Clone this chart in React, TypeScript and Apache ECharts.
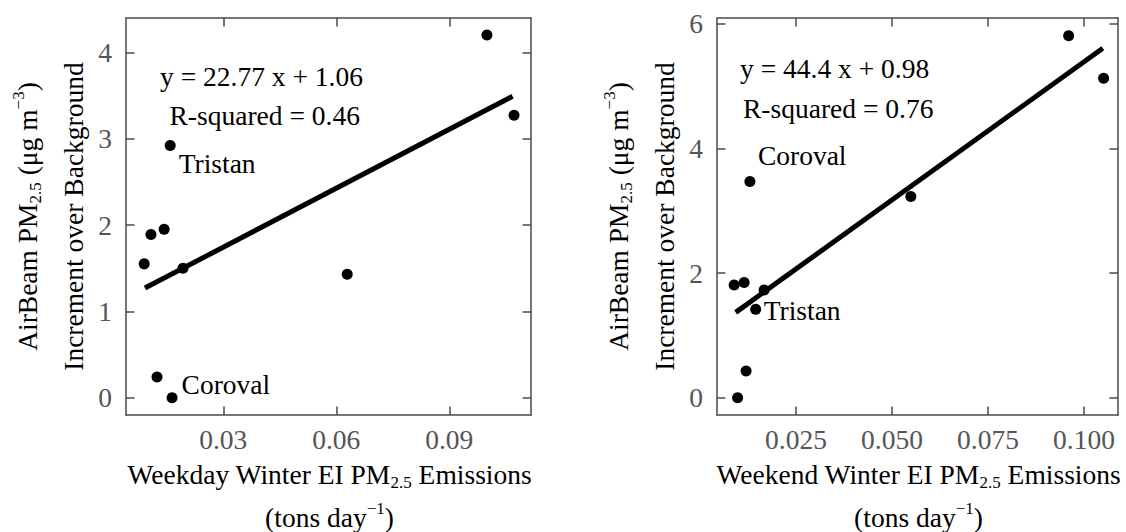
import React, { useEffect, useRef } from 'react';
import * as echarts from 'echarts';

const FONT = '"Liberation Serif", "Times New Roman", serif';

// ---- Data ----
const weekdayEmissions = [0.0090, 0.0108, 0.0143, 0.0193, 0.0159, 0.0124, 0.0164, 0.0629, 0.1000, 0.1072];
const weekdayIncrement = [1.55, 1.89, 1.95, 1.50, 2.92, 0.24, 0.00, 1.43, 4.20, 3.27];
const weekdayNames = ['', '', '', '', 'Tristan', '', 'Coroval', '', '', ''];
const weekdayFitX = [0.0092, 0.1068];
const weekdayFitY = [1.27, 3.49];

const weekendEmissions = [0.0089, 0.0115, 0.0098, 0.0120, 0.0145, 0.0167, 0.0130, 0.0549, 0.0960, 0.1051];
const weekendIncrement = [1.81, 1.85, 0.00, 0.43, 1.42, 1.73, 3.47, 3.23, 5.81, 5.13];
const weekendNames = ['', '', '', '', 'Tristan', '', 'Coroval', '', '', ''];
const weekendFitX = [0.0093, 0.1049];
const weekendFitY = [1.37, 5.61];

const weekdayXTicks = [0.03, 0.06, 0.09];
const weekdayYTicks = [0, 1, 2, 3, 4];
const weekendXTicks = [0.025, 0.05, 0.075, 0.1];
const weekendYTicks = [0, 2, 4, 6];

const weekdayEquation = 'y = 22.77 x + 1.06';
const weekdayR2 = 'R-squared = 0.46';
const weekendEquation = 'y = 44.4 x + 0.98';
const weekendR2 = 'R-squared = 0.76';

// ---- Styling / layout ----
const FS = 27.5;
const FRAME = '#4a4a4a';
const TICKCOLOR = '#555';
const grids = [
  { left: 126, top: 18, width: 405, height: 397 },
  { left: 717, top: 18, width: 401, height: 397 },
];
const ranges = [
  { xmin: 0.00417, xmax: 0.1117, ymin: -0.2, ymax: 4.397, xt: weekdayXTicks, yt: weekdayYTicks, dec: 2 },
  { xmin: 0.00443, xmax: 0.10885, ymin: -0.278, ymax: 6.096, xt: weekendXTicks, yt: weekendYTicks, dec: 3 },
];
const labelPlacement: Record<string, { distance: number; offset: number[] }>[] = [
  { Tristan: { distance: 3, offset: [0, 18] }, Coroval: { distance: 4, offset: [0, -13] } },
  { Tristan: { distance: 2.5, offset: [0, 1] }, Coroval: { distance: 2.5, offset: [0, -26] } },
];

const rich = {
  n: { fontFamily: FONT, fontSize: FS, color: '#000', lineHeight: 34 },
  sub: { fontFamily: FONT, fontSize: 17, color: '#000', verticalAlign: 'bottom', lineHeight: 17 },
  sup: { fontFamily: FONT, fontSize: 17, color: '#000', verticalAlign: 'top', lineHeight: 17 },
};

function makeAxes(i: number) {
  const r = ranges[i];
  const common = {
    gridIndex: i,
    type: 'value',
    splitLine: { show: false },
    axisLine: { show: true, onZero: false, lineStyle: { color: FRAME, width: 1.5 } },
  };
  const tick = (vals: number[]) => ({
    show: true,
    inside: true,
    length: 8.5,
    customValues: vals,
    lineStyle: { color: FRAME, width: 1.5 },
  });
  const xb = {
    ...common,
    position: 'bottom',
    min: r.xmin,
    max: r.xmax,
    axisTick: tick(r.xt),
    axisLabel: {
      show: true,
      customValues: r.xt,
      margin: 10,
      color: TICKCOLOR,
      fontFamily: FONT,
      fontSize: FS,
      formatter: (v: number) => v.toFixed(r.dec),
    },
  };
  const xt = { ...common, position: 'top', min: r.xmin, max: r.xmax, axisTick: tick(r.xt), axisLabel: { show: false } };
  const yl = {
    ...common,
    position: 'left',
    min: r.ymin,
    max: r.ymax,
    axisTick: tick(r.yt),
    axisLabel: {
      show: true,
      customValues: r.yt,
      margin: 14,
      color: TICKCOLOR,
      fontFamily: FONT,
      fontSize: FS,
      formatter: (v: number) => String(Math.round(v)),
    },
  };
  const yr = { ...common, position: 'right', min: r.ymin, max: r.ymax, axisTick: tick(r.yt), axisLabel: { show: false } };
  return { x: [xb, xt], y: [yl, yr] };
}

function makeSeries(i: number, xs: number[], ys: number[], names: string[], fx: number[], fy: number[]) {
  const place = labelPlacement[i];
  const pts = xs.map((x, k) => {
    const nm = names[k];
    if (!nm) return { value: [x, ys[k]] };
    const p = place[nm];
    return {
      value: [x, ys[k]],
      label: {
        show: true,
        formatter: nm,
        position: 'right',
        distance: p.distance,
        offset: p.offset,
        color: '#000',
        fontFamily: FONT,
        fontSize: FS,
      },
    };
  });
  return [
    {
      type: 'line',
      xAxisIndex: i * 2,
      yAxisIndex: i * 2,
      data: fx.map((x, k) => [x, fy[k]]),
      symbol: 'none',
      lineStyle: { color: '#000', width: 5, cap: 'butt', opacity: 1 },
      z: 2,
      silent: true,
    },
    {
      type: 'scatter',
      xAxisIndex: i * 2,
      yAxisIndex: i * 2,
      data: pts,
      symbol: 'circle',
      symbolSize: 11,
      itemStyle: { color: '#000', opacity: 1 },
      z: 3,
    },
  ];
}

function textEl(text: string, x: number, y: number, align = 'left') {
  return {
    type: 'text',
    x,
    y,
    silent: true,
    style: { text, font: `${FS}px ${FONT}`, fill: '#000', align, verticalAlign: 'middle' },
  };
}

function richEl(text: string, x: number, y: number, rotation = 0) {
  return {
    type: 'text',
    x,
    y,
    rotation,
    silent: true,
    style: { text, rich, align: 'center', verticalAlign: 'middle' },
  };
}

export default function App() {
  const ref = useRef<HTMLDivElement>(null);
  useEffect(() => {
    document.body.style.margin = '0';
    if (!ref.current) return;
    const chart = echarts.init(ref.current, undefined, { renderer: 'svg' });
    const a0 = makeAxes(0);
    const a1 = makeAxes(1);
    const yCenter = grids[0].top + grids[0].height / 2;
    const option: any = {
      animation: false,
      backgroundColor: '#fff',
      grid: grids.map((g) => ({ ...g, containLabel: false, show: false })),
      xAxis: [...a0.x, ...a1.x],
      yAxis: [...a0.y, ...a1.y],
      series: [
        ...makeSeries(0, weekdayEmissions, weekdayIncrement, weekdayNames, weekdayFitX, weekdayFitY),
        ...makeSeries(1, weekendEmissions, weekendIncrement, weekendNames, weekendFitX, weekendFitY),
      ],
      graphic: [
        textEl(weekdayEquation, 160, 76),
        textEl(weekdayR2, 169.5, 115.5),
        textEl(weekendEquation, 740, 68.5),
        textEl(weekendR2, 743, 108),
        richEl('{n|AirBeam PM}{sub|2.5}{n| (μg m}{sup|−3}{n|)}', grids[0].left - 99, yCenter, Math.PI / 2),
        richEl('{n|Increment over Background}', grids[0].left - 53, yCenter, Math.PI / 2),
        richEl('{n|AirBeam PM}{sub|2.5}{n| (μg m}{sup|−3}{n|)}', grids[1].left - 99, yCenter, Math.PI / 2),
        richEl('{n|Increment over Background}', grids[1].left - 53, yCenter, Math.PI / 2),
        richEl('{n|Weekday Winter EI PM}{sub|2.5}{n| Emissions}', grids[0].left + grids[0].width / 2 + 1, 474),
        richEl('{n|(tons day}{sup|−1}{n|)}', grids[0].left + grids[0].width / 2 + 1, 517),
        richEl('{n|Weekend Winter EI PM}{sub|2.5}{n| Emissions}', grids[1].left + grids[1].width / 2 + 1, 474),
        richEl('{n|(tons day}{sup|−1}{n|)}', grids[1].left + grids[1].width / 2 + 1, 517),
      ],
    };
    chart.setOption(option);
    return () => chart.dispose();
  }, []);
  return <div ref={ref} style={{ width: 1126, height: 532 }} />;
}
